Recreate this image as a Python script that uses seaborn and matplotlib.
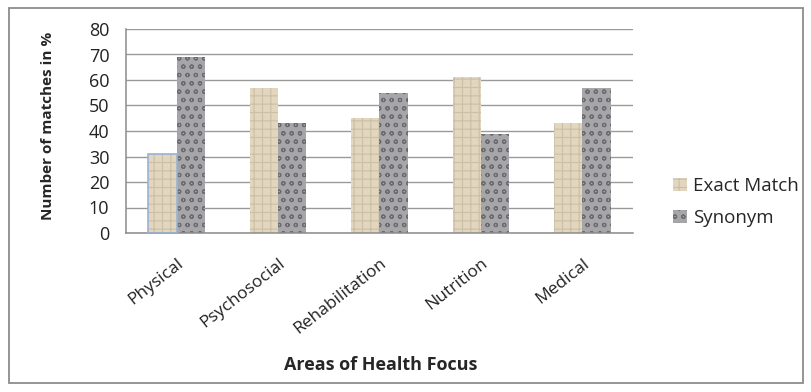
import matplotlib
matplotlib.use("Agg")
import matplotlib.pyplot as plt
import seaborn as sns
import pandas as pd
from matplotlib.patches import Rectangle

categories = ["Physical", "Psychosocial", "Rehabilitation", "Nutrition", "Medical"]
exact_match = [31, 57, 45, 61, 43]
synonym = [69, 43, 55, 39, 57]
series_names = ["Exact Match", "Synonym"]
y_ticks = [0, 10, 20, 30, 40, 50, 60, 70, 80]

df = pd.DataFrame({
    "Area": categories * 2,
    "Series": [series_names[0]] * len(categories) + [series_names[1]] * len(categories),
    "Value": exact_match + synonym,
})

sns.set_theme(style="white")
plt.rcParams["font.family"] = ["Open Sans", "DejaVu Sans"]
plt.rcParams["hatch.linewidth"] = 0.8

fig = plt.figure(figsize=(8.12, 3.92), dpi=100)
ax = fig.add_axes([126 / 812, 1 - 233 / 392, 507 / 812, 204 / 392])

palette = {"Exact Match": "#e2d6bf", "Synonym": "#a6a6a9"}
sns.barplot(data=df, x="Area", y="Value", hue="Series", palette=palette,
            width=0.56, ax=ax, legend=False, saturation=1, edgecolor="none")

hatch_style = {"Exact Match": ("++", "#cbbfa8"), "Synonym": ("oo", "#6a6a70")}
for container, name in zip(ax.containers, series_names):
    h, hc = hatch_style[name]
    for bar in container:
        bar.set_hatch(h)
        bar.set_edgecolor(hc)
        bar.set_linewidth(0)

# thin blue outline around the selected Physical bar
sel = ax.containers[0][0]
ax.add_patch(Rectangle(sel.get_xy(), sel.get_width(), sel.get_height(),
                       fill=False, edgecolor="#9bb3d6", linewidth=1.2, zorder=5))

ax.set_ylim(0, 80)
ax.set_yticks(y_ticks)
ax.set_yticklabels([str(t) for t in y_ticks], fontsize=13, color="#222222")
ax.yaxis.grid(True, color="#9a9a9a", linewidth=1)
ax.set_axisbelow(True)
for s in ["top", "right"]:
    ax.spines[s].set_visible(False)
for s in ["bottom", "left"]:
    ax.spines[s].set_color("#8c8c8c")
    ax.spines[s].set_linewidth(1.1)
ax.tick_params(axis="y", length=0, pad=12)
ax.tick_params(axis="x", length=0, pad=16)
ax.set_xticks(range(len(categories)))
ax.set_xticklabels(categories, rotation=38, ha="right", rotation_mode="anchor",
                   fontsize=12.5, color="#222222")
ax.set_xlabel("Areas of Health Focus", fontsize=13, fontweight="bold")
ax.xaxis.set_label_coords(0.503, -0.605)
ax.set_ylabel("Number of matches in %", fontsize=11, fontweight="bold")
ax.yaxis.set_label_coords(-0.14, 0.527)

handles = []
for name in series_names:
    h, hc = hatch_style[name]
    handles.append(Rectangle((0, 0), 1, 1, facecolor=palette[name], hatch=h,
                             edgecolor=hc, linewidth=0))
fig.legend(handles, series_names, loc="center left", bbox_to_anchor=(656 / 812, 1 - 202 / 392),
           frameon=False, fontsize=13.5, handlelength=0.75, handleheight=0.7,
           handletextpad=0.35, labelspacing=0.75)

# chart frame
fig.patches.append(Rectangle((9 / 812, 1 - 383 / 392), 794 / 812, 375 / 392,
                             transform=fig.transFigure, fill=False,
                             edgecolor="#8c8c8c", linewidth=1.3))

fig.savefig("out.png", dpi=100, facecolor="white")
